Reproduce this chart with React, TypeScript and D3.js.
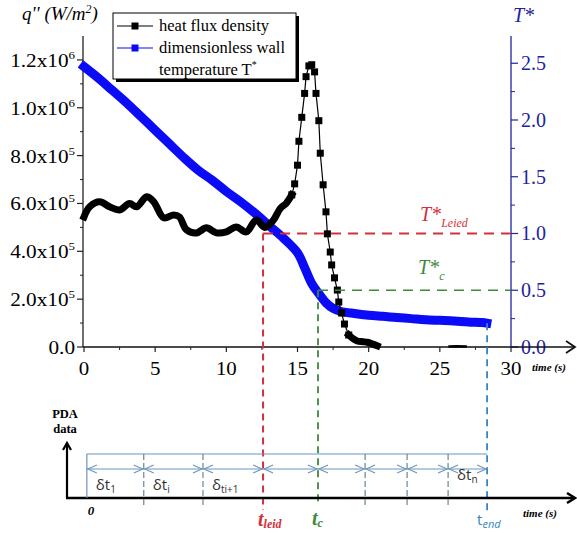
import * as d3 from 'd3';

// Dimensionless wall temperature T* (blue band, right axis)
const tStarTime = [0, 1, 2, 3, 4, 5, 6, 7, 8, 9, 10, 11, 12, 13, 14, 15, 15.5, 16, 16.5, 17, 17.5, 18, 19, 20, 21, 22, 23, 24, 25, 26, 27, 28, 28.3];
const tStarValue = [2.47, 2.37, 2.26, 2.15, 2.03, 1.91, 1.79, 1.67, 1.56, 1.47, 1.37, 1.28, 1.18, 1.07, 0.96, 0.83, 0.7, 0.56, 0.47, 0.39, 0.34, 0.315, 0.295, 0.28, 0.27, 0.26, 0.25, 0.24, 0.235, 0.23, 0.22, 0.215, 0.21];

// Heat flux density q'' (black, left axis): dense part before the peak
const fluxTime = [0, 0.4, 1.1, 1.8, 2.5, 3.2, 3.7, 4.4, 4.9, 5.6, 6.3, 6.7, 7.2, 7.9, 8.6, 9.3, 10.0, 10.7, 11.4, 12.1, 12.7, 13.3, 13.8, 14.2, 14.6];
const fluxValue = [5.44e5, 5.86e5, 6.07e5, 5.86e5, 5.73e5, 6.0e5, 5.86e5, 6.28e5, 6.07e5, 5.4e5, 5.52e5, 5.44e5, 4.9e5, 4.77e5, 4.98e5, 4.77e5, 4.81e5, 5.02e5, 4.81e5, 5.31e5, 5.0e5, 5.3e5, 5.8e5, 6.0e5, 6.36e5];
// the peak, where the markers stand apart
const peakTime = [14.6, 14.8, 15.0, 15.1, 15.3, 15.5, 15.6, 15.8, 16.0, 16.2, 16.3, 16.5, 16.6, 16.8, 17.0, 17.1, 17.3, 17.4, 17.6, 17.8, 17.9, 18.1, 18.3, 18.6];
const peakValue = [6.36e5, 6.82e5, 7.6e5, 8.6e5, 9.6e5, 1.06e6, 1.13e6, 1.175e6, 1.18e6, 1.15e6, 1.06e6, 9.46e5, 8.1e5, 6.78e5, 5.65e5, 4.73e5, 3.97e5, 3.43e5, 2.89e5, 2.38e5, 1.88e5, 1.42e5, 0.96e5, 0.5e5];
// dense tail after the peak
const tailTime = [18.6, 18.9, 19.2, 19.6, 19.9, 20.3, 20.6];
const tailValue = [0.5e5, 0.35e5, 0.25e5, 0.22e5, 0.2e5, 0.12e5, 0.05e5];
const residualTime = [25.6, 26.2, 26.9];
const residualValue = [0.02e5, 0.03e5, 0.02e5];

const qTicks = [0, 2e5, 4e5, 6e5, 8e5, 1e6, 1.2e6];
const qMinor = [1e5, 3e5, 5e5, 7e5, 9e5, 1.1e6];
const tStarTicks = [0, 0.5, 1, 1.5, 2, 2.5];
const tStarMinor = [0.25, 0.75, 1.25, 1.75, 2.25];
const timeTicks = [0, 5, 10, 15, 20, 25, 30];
const timeMinor = [2.5, 7.5, 12.5, 17.5, 22.5, 27.5];

const T_LEID = 1.0;
const T_C = 0.5;
const tLeid = 12.58;
const tC = 16.44;
const tEnd = 28.32;

// PDA data time steps (lower sketch)
const pdaDivisions = [0.2, 4.2, 8.36, 12.58, 16.44, 19.75, 22.7, 25.58, 28.32];
const pdaLabels = [
  { from: 0.2, main: 'δt', sub: '1', low: true },
  { from: 4.2, main: 'δt', sub: 'i', low: true },
  { from: 8.36, main: 'δ', sub: 'ti+1', low: true },
  { from: 25.58, main: 'δt', sub: 'n', low: false },
];

const BLUE = '#0b0bf5';
const AXIS_BLUE = '#22229e';
const RED = '#d3303c';
const GREEN = '#3c8a3c';
const LIGHT_BLUE = '#3586c6';
const STEEL = '#6d95bb';
const SERIF = '"Liberation Serif", "Times New Roman", serif';
const SANS = '"Open Sans", "DejaVu Sans", sans-serif';

const W = 577;
const H = 533;

const x = d3.scaleLinear().domain([0, 30]).range([84, 511]);
const yQ = d3.scaleLinear().domain([0, 1.3e6]).range([347, 36]);
const yT = d3.scaleLinear().domain([0, 2.74]).range([347, 36]);

const smoothQ = d3.line<[number, number]>().x((d) => x(d[0])).y((d) => yQ(d[1])).curve(d3.curveCatmullRom);
const lineQ = d3.line<[number, number]>().x((d) => x(d[0])).y((d) => yQ(d[1]));
const lineT = d3.line<[number, number]>().x((d) => x(d[0])).y((d) => yT(d[1])).curve(d3.curveCatmullRom);

const zipped = (a: number[], b: number[]) => a.map((v, i) => [v, b[i]] as [number, number]);

function qLabel(v: number) {
  if (v === 0) return { mant: '0.0', exp: '' };
  const e = Math.floor(Math.log10(v) + 1e-9);
  return { mant: `${(v / 10 ** e).toFixed(1)}x10`, exp: String(e) };
}

function chevron(px: number, py: number, dir: 'l' | 'r' | 'u', s = 7, w = 4) {
  if (dir === 'r') return `M${px - s},${py - w}L${px},${py}L${px - s},${py + w}`;
  if (dir === 'l') return `M${px + s},${py - w}L${px},${py}L${px + s},${py + w}`;
  return `M${px - w},${py + s}L${px},${py}L${px + w},${py + s}`;
}

export default function App() {
  const y0 = yQ(0);
  const xL = x(0) - 1;
  const xR = x(30);
  const tLeidY = yT(T_LEID);
  const tcY = yT(T_C);
  const endT = tStarValue[tStarValue.length - 1];

  // lower sketch geometry
  const pdaAxisY = 498;
  const bracketTop = 454;
  const arrowY = 469;

  return (
    <svg width={W} height={H} style={{ position: 'absolute', left: 0, top: 0, background: '#fff' }}>
      {/* axis titles */}
      <text x={22} y={20} fontFamily={SERIF} fontStyle="italic" fontSize={19}>
        q'' (W/m<tspan dy={-7} fontSize={12}>2</tspan><tspan dy={7}>)</tspan>
      </text>
      <text x={513} y={22} fontFamily={SERIF} fontStyle="italic" fontSize={20} fill={AXIS_BLUE}>T*</text>

      {/* left axis */}
      <line x1={xL} x2={xL} y1={yQ.range()[1]} y2={y0} stroke="#222" strokeWidth={1.3} />
      {qTicks.map((v) => {
        const { mant, exp } = qLabel(v);
        return (
          <g key={v}>
            <line x1={xL - 6} x2={xL} y1={yQ(v)} y2={yQ(v)} stroke="#222" strokeWidth={1.2} />
            <text transform={`translate(${xL - 8},${yQ(v) + 7}) scale(1.18,1)`} textAnchor="end" fontFamily={SERIF} fontSize={18}>
              {mant}
              {exp && <tspan dy={-8} fontSize={11}>{exp}</tspan>}
            </text>
          </g>
        );
      })}
      {qMinor.map((v) => (
        <line key={v} x1={xL - 3} x2={xL} y1={yQ(v)} y2={yQ(v)} stroke="#222" strokeWidth={1} />
      ))}

      {/* right axis */}
      <line x1={xR} x2={xR} y1={yT.range()[1]} y2={y0} stroke={AXIS_BLUE} strokeWidth={1.3} />
      {tStarTicks.map((v) => (
        <g key={v}>
          <line x1={xR} x2={xR + 7} y1={yT(v)} y2={yT(v)} stroke={AXIS_BLUE} strokeWidth={1.2} />
          <text x={xR + 10} y={yT(v) + 7} fontFamily={SERIF} fontSize={20} fill={AXIS_BLUE}>{v.toFixed(1)}</text>
        </g>
      ))}
      {tStarMinor.map((v) => (
        <line key={v} x1={xR} x2={xR + 4} y1={yT(v)} y2={yT(v)} stroke={AXIS_BLUE} strokeWidth={1} />
      ))}

      {/* bottom axis */}
      <line x1={xL} x2={574} y1={y0} y2={y0} stroke="#111" strokeWidth={1.5} />
      <path d={chevron(575, y0, 'r', 9, 6)} fill="none" stroke="#111" strokeWidth={1.8} />
      {timeTicks.map((v) => (
        <g key={v}>
          <line x1={x(v)} x2={x(v)} y1={y0} y2={y0 + 5} stroke="#222" strokeWidth={1.2} />
          <text transform={`translate(${x(v)},375) scale(1.1,1)`} textAnchor="middle" fontFamily={SERIF} fontSize={19}>{v}</text>
        </g>
      ))}
      {timeMinor.map((v) => (
        <line key={v} x1={x(v)} x2={x(v)} y1={y0} y2={y0 + 3} stroke="#222" strokeWidth={1} />
      ))}
      <text x={532} y={371} fontFamily={SERIF} fontStyle="italic" fontWeight="bold" fontSize={11}>time (s)</text>

      {/* T* band */}
      <path d={lineT(zipped(tStarTime, tStarValue)) ?? ''} fill="none" stroke={BLUE} strokeWidth={9} strokeLinecap="square" strokeLinejoin="round" />

      {/* heat flux */}
      <path d={smoothQ(zipped(fluxTime, fluxValue)) ?? ''} fill="none" stroke="#000" strokeWidth={7} strokeLinecap="square" strokeLinejoin="round" />
      <path d={lineQ(zipped(peakTime, peakValue)) ?? ''} fill="none" stroke="#000" strokeWidth={1.2} />
      {peakTime.map((t, i) => (
        <rect key={t} x={x(t) - 3.5} y={yQ(peakValue[i]) - 3.5} width={7} height={7} fill="#000" />
      ))}
      <path d={smoothQ(zipped(tailTime, tailValue)) ?? ''} fill="none" stroke="#000" strokeWidth={7} strokeLinecap="square" strokeLinejoin="round" />
      <path d={lineQ(zipped(residualTime, residualValue)) ?? ''} fill="none" stroke="#000" strokeWidth={2.5} />

      {/* threshold guides */}
      <line x1={x(tLeid)} x2={xR} y1={tLeidY} y2={tLeidY} stroke={RED} strokeWidth={1.8} strokeDasharray="10,7" />
      <line x1={x(tLeid)} x2={x(tLeid)} y1={tLeidY} y2={510} stroke={RED} strokeWidth={2} strokeDasharray="7,5" />
      <line x1={x(tC)} x2={xR} y1={tcY} y2={tcY} stroke={GREEN} strokeWidth={1.6} strokeDasharray="10,7" />
      <line x1={x(tC)} x2={x(tC)} y1={tcY} y2={505} stroke={GREEN} strokeWidth={1.8} strokeDasharray="7,5" />
      <line x1={x(tEnd)} x2={x(tEnd)} y1={yT(endT)} y2={512} stroke={LIGHT_BLUE} strokeWidth={1.8} strokeDasharray="7,5" />

      <text x={420} y={221} fontFamily={SERIF} fontStyle="italic" fontSize={20} fill={RED}>
        T*<tspan dy={6} fontSize={12}>Leied</tspan>
      </text>
      <text x={418} y={274} fontFamily={SERIF} fontStyle="italic" fontSize={20} fill={GREEN}>
        T*<tspan dy={6} fontSize={12}>c</tspan>
      </text>

      {/* legend */}
      <rect x={116} y={16} width={183} height={66} fill="#000" />
      <rect x={113} y={13} width={183} height={66} fill="#fff" stroke="#000" strokeWidth={1} />
      <line x1={117} x2={153} y1={26} y2={26} stroke="#000" strokeWidth={1.2} />
      <rect x={131.5} y={22.5} width={7} height={7} fill="#000" />
      <text x={159} y={31} fontFamily={SERIF} fontSize={16.5}>heat flux density</text>
      <line x1={117} x2={153} y1={48} y2={48} stroke={BLUE} strokeWidth={1.2} />
      <rect x={131.5} y={44.5} width={7} height={7} fill={BLUE} />
      <text x={159} y={53} fontFamily={SERIF} fontSize={16.5}>dimensionless wall</text>
      <text x={159} y={75} fontFamily={SERIF} fontSize={16.5}>
        temperature T<tspan dy={-7} fontSize={10}>*</tspan>
      </text>

      {/* lower sketch: PDA data over time */}
      <text x={65} y={418} textAnchor="middle" fontFamily={SERIF} fontWeight="bold" fontSize={12.5}>PDA</text>
      <text x={65} y={433} textAnchor="middle" fontFamily={SERIF} fontWeight="bold" fontSize={12.5}>data</text>
      <line x1={67} x2={67} y1={pdaAxisY} y2={444} stroke="#000" strokeWidth={2.2} />
      <path d={chevron(67, 443, 'u', 7, 4)} fill="none" stroke="#000" strokeWidth={2.2} />
      <line x1={66} x2={573} y1={pdaAxisY} y2={pdaAxisY} stroke="#000" strokeWidth={2.5} />
      <path d={chevron(575, pdaAxisY, 'r', 8, 5)} fill="none" stroke="#000" strokeWidth={2.5} />

      <line x1={x(pdaDivisions[0])} x2={x(tEnd)} y1={bracketTop} y2={bracketTop} stroke={STEEL} strokeWidth={1.2} />
      <line x1={x(pdaDivisions[0])} x2={x(pdaDivisions[0])} y1={bracketTop} y2={pdaAxisY} stroke={STEEL} strokeWidth={1.2} />
      <line x1={x(pdaDivisions[0])} x2={x(tEnd)} y1={arrowY} y2={arrowY} stroke={STEEL} strokeWidth={1.1} />
      {pdaDivisions.slice(1, -1).filter((t) => t !== tLeid && t !== tC).map((t) => (
        <line key={t} x1={x(t)} x2={x(t)} y1={bracketTop} y2={507} stroke="#5b7c8c" strokeWidth={1.1} strokeDasharray="6,3" />
      ))}
      {pdaDivisions.slice(0, -1).map((t, i) => (
        <g key={t} fill="none" stroke={STEEL} strokeWidth={1.1}>
          <path d={chevron(x(t) + 1, arrowY, 'l', 9, 4)} />
          <path d={chevron(x(pdaDivisions[i + 1]) - 1, arrowY, 'r', 9, 4)} />
        </g>
      ))}
      {pdaLabels.map((l) => (
        <text key={l.from} x={x(l.from) + 9} y={l.low ? 490 : 480} fontFamily={SANS} fontSize={15} fill="#333">
          {l.main}<tspan dy={3} fontSize={10}>{l.sub}</tspan>
        </text>
      ))}

      <text x={x(pdaDivisions[0]) + 1} y={515} fontFamily={SERIF} fontStyle="italic" fontWeight="bold" fontSize={13}>0</text>
      <text x={523} y={517} fontFamily={SERIF} fontStyle="italic" fontWeight="bold" fontSize={11}>time (s)</text>
      <text x={x(tLeid) - 5} y={526} fontFamily={SERIF} fontStyle="italic" fontWeight="bold" fontSize={20} fill={RED}>
        t<tspan dy={2} fontSize={12}>leid</tspan>
      </text>
      <text x={x(tC) - 6} y={525} fontFamily={SERIF} fontStyle="italic" fontWeight="bold" fontSize={20} fill={GREEN}>
        t<tspan dy={2} fontSize={12}>c</tspan>
      </text>
      <text x={x(tEnd) - 10} y={525} fontFamily={SANS} fontSize={15} fill={LIGHT_BLUE}>
        t<tspan dy={3} fontSize={11} fontStyle="italic">end</tspan>
      </text>
    </svg>
  );
}
